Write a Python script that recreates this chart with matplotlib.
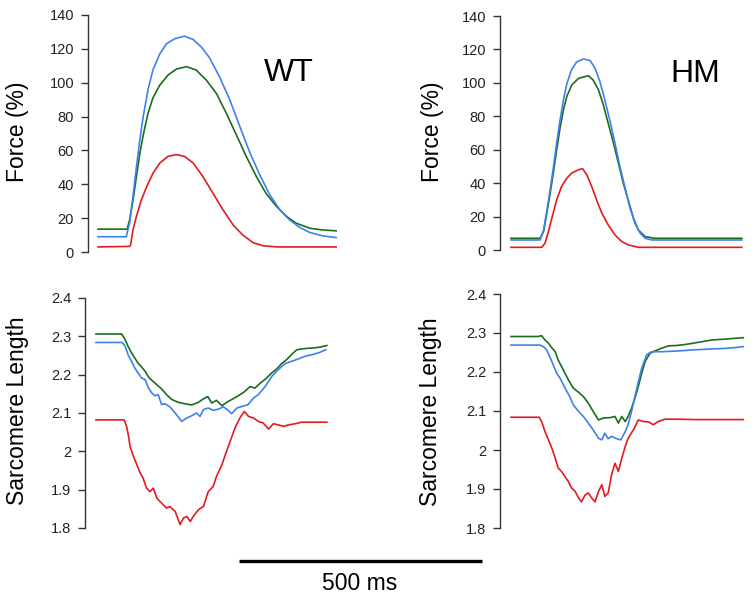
import matplotlib
matplotlib.use('Agg')
import matplotlib.pyplot as plt

plt.rcParams['font.family'] = ['Liberation Sans', 'DejaVu Sans']

# ---- data (time in ms from start of trace) ----
# WT force (%)
wt_force_blue_t = [0, 58, 65, 72, 79, 86, 93, 103, 113, 127, 141, 158, 178, 196, 213, 230, 250, 271,
                   292, 312, 333, 353, 374, 394, 415, 436, 463, 490]
wt_force_blue = [9, 9, 17, 33, 50, 66, 80, 96, 107.5, 117, 123, 126, 127.5, 125.5, 121, 114.5, 103.5, 90,
                 74, 59, 45.5, 34, 25, 19, 14.5, 11.5, 9.5, 8.5]
wt_force_green_t = [0, 60, 65, 72, 79, 86, 93, 103, 113, 127, 144, 161, 182, 202, 223, 244, 264, 285,
                    305, 326, 346, 367, 388, 408, 436, 463, 490]
wt_force_green = [13.5, 13.5, 19, 30.5, 44.5, 58, 69, 82, 91, 98.5, 104.5, 108, 109.5, 107.5, 101.5, 93.5, 82, 69,
                  56.5, 44.5, 34.5, 27, 21, 17, 14, 13, 12.5]
wt_force_red_t = [0, 65, 67, 72, 79, 89, 100, 113, 127, 144, 161, 178, 196, 216, 237, 257, 278, 298,
                  319, 340, 367, 490]
wt_force_red = [3, 3.3, 4, 13, 21, 30.5, 38.5, 46.5, 52.5, 56.5, 57.5, 56.5, 52.5, 44.5, 34.5, 25, 16, 10,
                5.5, 3.7, 3, 3]

# HM force (%)
hm_force_blue_t = [0, 60, 67, 73, 80, 87, 94, 101, 108, 115, 124, 135, 149, 163, 173, 183, 193, 204,
                   214, 224, 235, 245, 255, 266, 276, 290, 475]
hm_force_blue = [6, 6, 12, 22, 35, 49, 64, 78, 90, 99.5, 107.5, 112.5, 114.3, 113.3, 108.7, 100.7, 89.8, 76.8,
                 63.8, 50, 37, 25, 16, 10, 7, 6, 6]
hm_force_green_t = [0, 60, 67, 73, 80, 87, 94, 101, 108, 115, 125, 139, 159, 169, 180, 190, 200, 211,
                    221, 231, 242, 252, 262, 276, 296, 475]
hm_force_green = [7, 7, 11, 21, 33, 46, 60, 73, 84, 92, 98.7, 102.7, 104.3, 101.7, 95.8, 86.8, 75.8, 63.8,
                  52, 40, 29, 19, 12, 8, 7, 7]
hm_force_red_t = [0, 63, 70, 77, 84, 94, 104, 115, 125, 139, 147, 156, 166, 176, 187, 200, 214, 228,
                  242, 262, 475]
hm_force_red = [1.6, 1.6, 4, 11, 19, 30, 38, 43, 46, 48, 48.7, 45, 38, 30, 22, 15, 9, 5,
                3, 1.6, 1.6]

# WT sarcomere length (um)
wt_sl_green_t = [0, 53, 60, 66, 73, 80, 87, 94, 101, 108, 115, 125, 135, 145, 156, 169, 183, 197, 211, 221,
                 230, 238, 248, 259, 269, 279, 293, 306, 317, 327, 338, 351, 361, 372, 382, 392, 402, 413,
                 423, 437, 451, 461, 475]
wt_sl_green = [2.306, 2.306, 2.291, 2.274, 2.257, 2.243, 2.229, 2.220, 2.209, 2.194, 2.185, 2.174, 2.163,
               2.148, 2.135, 2.128, 2.124, 2.121, 2.128, 2.137, 2.143, 2.126, 2.133, 2.119, 2.128, 2.135,
               2.145, 2.156, 2.169, 2.165, 2.178, 2.191, 2.204, 2.215, 2.229, 2.239, 2.252, 2.265, 2.267,
               2.269, 2.270, 2.272, 2.276]
wt_sl_blue_t = [0, 54, 60, 66, 73, 80, 87, 94, 101, 108, 115, 121, 128, 135, 142, 152, 163, 169, 176, 187,
                197, 207, 214, 221, 231, 241, 252, 262, 272, 279, 290, 300, 313, 324, 334, 348, 362, 375,
                389, 403, 416, 430, 444, 458, 473]
wt_sl_blue = [2.284, 2.284, 2.274, 2.252, 2.235, 2.217, 2.204, 2.191, 2.187, 2.165, 2.152, 2.145, 2.148,
              2.122, 2.124, 2.116, 2.100, 2.090, 2.078, 2.087, 2.093, 2.100, 2.091, 2.109, 2.113, 2.107,
              2.110, 2.116, 2.107, 2.098, 2.113, 2.117, 2.122, 2.139, 2.148, 2.169, 2.196, 2.213, 2.229,
              2.235, 2.241, 2.248, 2.252, 2.257, 2.265]
wt_sl_red_t = [0, 58, 63, 67, 70, 77, 84, 91, 97, 104, 111, 118, 125, 135, 145, 152, 163, 173, 180, 187,
               194, 200, 211, 221, 231, 241, 248, 259, 266, 276, 286, 296, 305, 314, 324, 334, 344, 355,
               365, 375, 386, 396, 410, 423, 475]
wt_sl_red = [2.082, 2.082, 2.065, 2.039, 2.013, 1.987, 1.965, 1.943, 1.930, 1.904, 1.895, 1.904, 1.878,
             1.865, 1.852, 1.856, 1.843, 1.809, 1.826, 1.830, 1.817, 1.830, 1.848, 1.856, 1.895, 1.908,
             1.935, 1.965, 1.991, 2.026, 2.061, 2.087, 2.104, 2.091, 2.087, 2.078, 2.074, 2.058, 2.072,
             2.069, 2.065, 2.069, 2.072, 2.076, 2.076]

# HM sarcomere length (um)
hm_sl_green_t = [0, 56, 63, 70, 77, 84, 91, 97, 104, 111, 118, 128, 139, 149, 159, 169, 180, 190, 204,
                 214, 221, 228, 235, 241, 248, 255, 262, 269, 276, 286, 296, 310, 324, 341, 361, 385, 413,
                 447, 478]
hm_sl_green = [2.291, 2.291, 2.293, 2.282, 2.274, 2.262, 2.252, 2.231, 2.214, 2.197, 2.180, 2.159, 2.148,
               2.137, 2.120, 2.099, 2.077, 2.082, 2.083, 2.086, 2.069, 2.086, 2.073, 2.086, 2.107, 2.133,
               2.163, 2.197, 2.227, 2.248, 2.254, 2.261, 2.267, 2.268, 2.271, 2.276, 2.282, 2.285, 2.288]
hm_sl_blue_t = [0, 60, 67, 73, 80, 87, 94, 101, 108, 115, 121, 128, 139, 149, 159, 169, 180, 187, 193,
                200, 207, 217, 226, 235, 241, 248, 255, 262, 269, 279, 289, 310, 344, 379, 413, 447, 478]
hm_sl_blue = [2.269, 2.269, 2.265, 2.257, 2.239, 2.218, 2.197, 2.184, 2.167, 2.150, 2.137, 2.116, 2.099,
              2.086, 2.069, 2.052, 2.030, 2.026, 2.043, 2.029, 2.035, 2.029, 2.026, 2.047, 2.065, 2.099,
              2.137, 2.175, 2.210, 2.244, 2.252, 2.252, 2.254, 2.257, 2.259, 2.261, 2.265]
hm_sl_red_t = [0, 58, 63, 70, 77, 84, 91, 97, 104, 111, 118, 125, 132, 139, 145, 152, 159, 166, 173, 180,
               187, 193, 200, 207, 214, 221, 228, 235, 241, 252, 262, 272, 283, 293, 303, 317, 344, 379,
               413, 447, 478]
hm_sl_red = [2.084, 2.084, 2.073, 2.047, 2.026, 2.005, 1.979, 1.954, 1.945, 1.932, 1.919, 1.902, 1.894,
             1.877, 1.867, 1.884, 1.890, 1.877, 1.867, 1.894, 1.911, 1.881, 1.890, 1.937, 1.966, 1.945,
             1.979, 2.009, 2.030, 2.052, 2.077, 2.073, 2.072, 2.065, 2.073, 2.079, 2.079, 2.078, 2.078,
             2.078, 2.078]

force_ticks = [0, 20, 40, 60, 80, 100, 120, 140]
sl_ticks = [1.8, 1.9, 2.0, 2.1, 2.2, 2.3, 2.4]
sl_tick_labels = ['1.8', '1.9', '2', '2.1', '2.2', '2.3', '2.4']
scalebar_ms = 500

# colours
c_blue = '#3d82ec'
c_green = '#1c6b20'
c_red = '#e41a1e'

W, H = 754, 599
MS_PER_PX = 500 / 243.0

fig = plt.figure(figsize=(W / 100, H / 100), dpi=100)


def px_axes(left, top, right, bottom, t0):
    ax = fig.add_axes([left / W, 1 - bottom / H, (right - left) / W, (bottom - top) / H])
    ax.set_xlim((left - t0) * MS_PER_PX, (right - t0) * MS_PER_PX)
    for s in ['top', 'right', 'bottom']:
        ax.spines[s].set_visible(False)
    ax.spines['left'].set_color('#333333')
    ax.spines['left'].set_linewidth(1.0)
    ax.set_xticks([])
    ax.tick_params(axis='y', length=5, width=1.0, color='#333333', pad=5,
                   labelsize=10.5, labelcolor='#222222')
    ax.patch.set_alpha(0)
    return ax


def draw_force(ax, series):
    for t, v, c in series:
        ax.plot(t, v, color=c, lw=1.2, clip_on=False)
    ax.set_ylim(0, 140)
    ax.set_yticks(force_ticks)


def draw_sl(ax, series):
    for t, v, c in series:
        ax.plot(t, v, color=c, lw=1.2, clip_on=False)
    ax.set_ylim(1.8, 2.4)
    ax.set_yticks(sl_ticks)
    ax.set_yticklabels(sl_tick_labels)


# top left - WT force
ax1 = px_axes(88, 15, 345, 252, 98)
draw_force(ax1, [(wt_force_green_t, wt_force_green, c_green),
                 (wt_force_blue_t, wt_force_blue, c_blue),
                 (wt_force_red_t, wt_force_red, c_red)])
ax1.text(0.78, 0.755, 'WT', transform=ax1.transAxes, fontsize=23, ha='center', va='center')

# top right - HM force
ax2 = px_axes(500, 16, 750, 250, 511)
draw_force(ax2, [(hm_force_green_t, hm_force_green, c_green),
                 (hm_force_blue_t, hm_force_blue, c_blue),
                 (hm_force_red_t, hm_force_red, c_red)])
ax2.text(0.78, 0.75, 'HM', transform=ax2.transAxes, fontsize=23, ha='center', va='center')

# bottom left - WT sarcomere length
ax3 = px_axes(85, 298, 340, 528, 96)
draw_sl(ax3, [(wt_sl_green_t, wt_sl_green, c_green),
              (wt_sl_blue_t, wt_sl_blue, c_blue),
              (wt_sl_red_t, wt_sl_red, c_red)])

# bottom right - HM sarcomere length
ax4 = px_axes(500, 294, 750, 528, 511)
draw_sl(ax4, [(hm_sl_green_t, hm_sl_green, c_green),
              (hm_sl_blue_t, hm_sl_blue, c_blue),
              (hm_sl_red_t, hm_sl_red, c_red)])

# y labels
fig.text(18 / W, 1 - 132 / H, 'Force (%)', rotation=90, ha='center', va='center', fontsize=16.5)
fig.text(433 / W, 1 - 132 / H, 'Force (%)', rotation=90, ha='center', va='center', fontsize=16.5)
fig.text(17.5 / W, 1 - 411 / H, 'Sarcomere Length', rotation=90, ha='center', va='center', fontsize=16.5)
fig.text(431 / W, 1 - 412 / H, 'Sarcomere Length', rotation=90, ha='center', va='center', fontsize=16.5)

# time scale bar
axs = fig.add_axes([239 / W, 1 - 566 / H, 243 / W, 10 / H])
axs.set_xlim(0, scalebar_ms)
axs.set_ylim(-1, 1)
axs.plot([0, scalebar_ms], [0, 0], color='black', lw=2.4, solid_capstyle='butt', clip_on=False)
axs.axis('off')
fig.text(360 / W, 1 - 583 / H, '%d ms' % scalebar_ms, ha='center', va='center', fontsize=16.5)

fig.savefig('out.png', dpi=100)
